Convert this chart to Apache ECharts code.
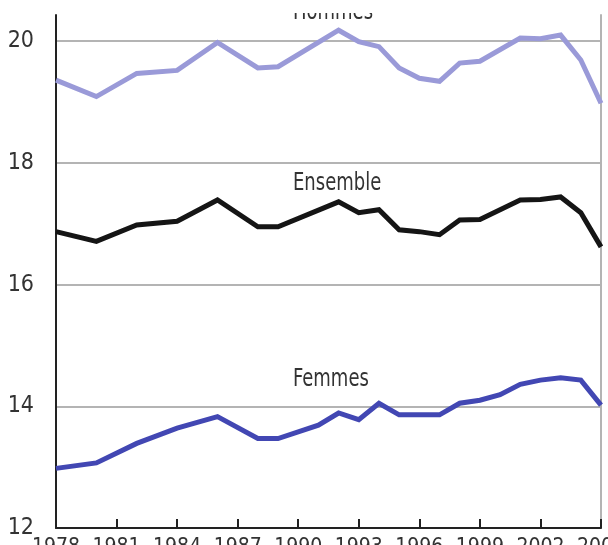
<!DOCTYPE html>
<html>
<head>
<meta charset="utf-8">
<script src="https://cdn.jsdelivr.net/npm/echarts@6/dist/echarts.min.js"></script>
<style>
html,body{margin:0;padding:0;background:#fff;}
#chart{width:608px;height:545px;}
</style>
</head>
<body>
<div id="chart"></div>
<script>
// Years (category axis)
const years = [];
for (let y = 1978; y <= 2005; y++) years.push(String(y));

// Values (null = no vertex, line is connected)
const hommes = [19.36, null, 19.09, null, 19.47, null, 19.52, null, 19.98, null, 19.56, 19.58, null, null, 20.18, 19.99, 19.91, 19.56, 19.39, 19.34, 19.64, 19.67, null, 20.05, 20.04, 20.10, 19.69, 18.98];
const ensemble = [16.87, null, 16.71, null, 16.98, null, 17.04, null, 17.39, null, 16.95, 16.95, null, null, 17.36, 17.18, 17.23, 16.90, 16.87, 16.82, 17.06, 17.07, null, 17.39, 17.40, 17.44, 17.18, 16.62];
const femmes = [12.98, null, 13.07, null, 13.39, null, 13.64, null, 13.83, null, 13.47, 13.47, null, 13.69, 13.89, 13.78, 14.05, 13.86, 13.86, 13.86, 14.05, 14.10, 14.19, 14.36, 14.43, 14.47, 14.43, 14.02];

const yTicks = [12, 14, 16, 18, 20];
const seriesNames = ['Hommes', 'Ensemble', 'Femmes'];

const FONT = '"DejaVu Sans Condensed", "Liberation Sans Narrow", "Liberation Sans", sans-serif';

const chart = echarts.init(document.getElementById('chart'), null, {renderer: 'canvas'});
chart.setOption({
  animation: false,
  backgroundColor: '#ffffff',
  grid: {left: 56, right: 7, top: 15, bottom: 17, containLabel: false, outerBoundsMode: 'none'},
  xAxis: {
    type: 'category',
    data: years,
    boundaryGap: false,
    axisLine: {show: true, lineStyle: {color: '#222', width: 2}},
    axisTick: {show: true, inside: true, length: 9, interval: 2, lineStyle: {color: '#222', width: 2}},
    axisLabel: {interval: 2, margin: 9, fontFamily: FONT, fontSize: 21, color: '#333', lineHeight: 21, hideOverlap: false},
    splitLine: {show: false}
  },
  yAxis: [{
    type: 'value',
    min: 12, max: 20.43, interval: 2,
    axisLine: {show: true, lineStyle: {color: '#222', width: 2}},
    axisTick: {show: false},
    axisLabel: {
      margin: 22, fontFamily: FONT, fontSize: 23, color: '#333', showMaxLabel: false,
      formatter: v => (yTicks.indexOf(v) >= 0 ? String(v) : '')
    },
    splitLine: {show: true, showMinLine: false, showMaxLine: false, lineStyle: {color: '#b4b4b4', width: 2}}
  }, {
    type: 'value',
    position: 'right',
    min: 12, max: 20.43, interval: 2,
    axisLine: {show: true, lineStyle: {color: '#b4b4b4', width: 2}},
    axisTick: {show: false},
    axisLabel: {show: false},
    splitLine: {show: false}
  }],
  series: [
    {name: seriesNames[0], type: 'line', data: hommes, connectNulls: true, symbol: 'none',
     lineStyle: {color: '#9a9ad8', width: 5, join: 'miter'}, z: 3},
    {name: seriesNames[1], type: 'line', data: ensemble, connectNulls: true, symbol: 'none',
     lineStyle: {color: '#151515', width: 5, join: 'miter'}, z: 3},
    {name: seriesNames[2], type: 'line', data: femmes, connectNulls: true, symbol: 'none',
     lineStyle: {color: '#4247b3', width: 5, join: 'miter'}, z: 3}
  ],
  graphic: [
    {type: 'text', x: 293, y: 0, scaleX: 0.8, z: 10,
     style: {text: seriesNames[0], font: '25px ' + FONT, fill: '#333'}},
    {type: 'rect', x: 280, y: 0, z: 11, shape: {width: 110, height: 13}, style: {fill: '#ffffff'}},
    {type: 'text', x: 293, y: 171, scaleX: 0.8, z: 10,
     style: {text: seriesNames[1], font: '25px ' + FONT, fill: '#333'}},
    {type: 'text', x: 293, y: 367, scaleX: 0.8, z: 10,
     style: {text: seriesNames[2], font: '25px ' + FONT, fill: '#333'}}
  ]
});
</script>
</body>
</html>
